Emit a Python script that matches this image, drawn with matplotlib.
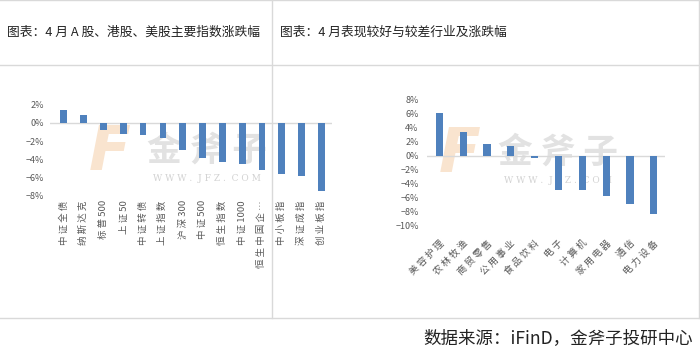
import matplotlib
matplotlib.use("Agg")
import matplotlib.pyplot as plt
from matplotlib.lines import Line2D
from matplotlib.ticker import FuncFormatter

plt.rcParams["font.family"] = ["Noto Sans CJK SC", "DejaVu Sans"]

# left panel: index returns in April (%)
index_names = ["中证全债", "纳斯达克", "标普500", "上证50", "中证转债", "上证指数", "沪深300",
               "中证500", "恒生指数", "中证1000", "恒生中国企…", "中小板指", "深证成指", "创业板指"]
index_returns = [1.45, 0.89, -0.78, -1.19, -1.33, -1.67, -3.0,
                 -3.89, -4.33, -4.48, -5.19, -5.63, -5.81, -7.44]

# right panel: best / worst industries (%)
industry_names = ["美容护理", "农林牧渔", "商贸零售", "公用事业", "食品饮料",
                  "电子", "计算机", "家用电器", "通信", "电力设备"]
industry_returns = [6.18, 3.40, 1.77, 1.44, -0.29, -4.79, -4.93, -5.70, -6.85, -8.29]

titles = ["图表：4 月 A 股、港股、美股主要指数涨跌幅", "图表：4 月表现较好与较差行业及涨跌幅"]
source_note = "数据来源：iFinD，金斧子投研中心"

BAR = "#4f81bd"
GRID = "#d9d9d9"
TICK = "#595959"


def is_cjk(ch: str) -> bool:
    return ord(ch) > 0x2000


def spaced(label: str) -> str:
    # excel draws the cjk labels with wide letter spacing
    out = label[0]
    for prev, ch in zip(label, label[1:]):
        if is_cjk(prev) or is_cjk(ch):
            out += " "
        out += ch
    return out


def pct(v, _pos):
    return f"{v:.0f}%".replace("-", "\u2212")


def style_axis(ax, ylim, step):
    ax.set_ylim(*ylim)
    ax.set_yticks(range(ylim[0], ylim[1] + 1, step))
    ax.yaxis.set_major_formatter(FuncFormatter(pct))
    for side in ("top", "right", "left", "bottom"):
        ax.spines[side].set_visible(False)
    ax.axhline(0, color=GRID, lw=1.0, zorder=1)
    ax.tick_params(axis="both", length=0, colors=TICK, labelsize=6.5)
    ax.set_facecolor("none")


def watermark(fig, cx, cy):
    # faint site watermark, drawn under the axes
    fig.text(cx - 0.14, cy - 0.01, "F", fontsize=44, fontweight="bold", fontstyle="italic",
             color="#f9e4cf", ha="center", va="center", family="DejaVu Sans", zorder=-2)
    fig.text(cx, cy, "金 斧 子", fontsize=25, fontweight="bold", color="#e2e2e2",
             ha="center", va="center", zorder=-1)
    fig.text(cx, cy - 0.08, "W W W .  J F Z .  C O M", fontsize=6.5, color="#d2d2d2",
             ha="center", va="center", family="DejaVu Serif", zorder=-1)


fig = plt.figure(figsize=(7.0, 3.57), dpi=100)

# left chart
ax1 = fig.add_axes([0.0714, 0.451, 0.403, 0.256])
x1 = range(len(index_names))
ax1.bar(x1, index_returns, width=0.34, color=BAR, zorder=2)
ax1.set_xlim(-0.7, 13.54)
style_axis(ax1, (-8, 2), 2)
ax1.tick_params(axis="y", pad=4)
ax1.tick_params(axis="x", pad=3)
ax1.set_xticks(list(x1))
ax1.set_xticklabels([spaced(n) for n in index_names], rotation=90, va="top", ha="center",
                    fontsize=6.8, color=TICK)

# right chart
ax2 = fig.add_axes([0.61, 0.367, 0.34, 0.353])
x2 = range(len(industry_names))
ax2.bar(x2, industry_returns, width=0.3, color=BAR, zorder=2)
ax2.set_xlim(-0.52, 9.47)
style_axis(ax2, (-10, 8), 2)
ax2.tick_params(axis="y", pad=6)
ax2.tick_params(axis="x", pad=9)
ax2.set_xticks(list(x2))
ax2.set_xticklabels([spaced(n) for n in industry_names], rotation=45, ha="right", va="top",
                    rotation_mode="anchor", fontsize=6.8, color=TICK)

watermark(fig, 0.296, 0.58)
watermark(fig, 0.797, 0.575)

# titles and footer
fig.text(0.010, 0.91, titles[0], fontsize=9.2, color="#222222", ha="left", va="center")
fig.text(0.400, 0.91, titles[1], fontsize=9.2, color="#222222", ha="left", va="center")
fig.text(0.990, 0.052, source_note, fontsize=12.6, color="#222222", ha="right", va="center")

# table frame lines
frame = [
    ([0.0, 1.0], [0.9986, 0.9986]),
    ([0.0, 1.0], [0.818, 0.818]),
    ([0.0, 1.0], [0.109, 0.109]),
    ([0.3886, 0.3886], [0.109, 1.0]),
    ([0.9986, 0.9986], [0.109, 1.0]),
]
for xs, ys in frame:
    fig.add_artist(Line2D(xs, ys, transform=fig.transFigure, color=GRID, lw=1.0))

fig.savefig("out.png", dpi=100)
